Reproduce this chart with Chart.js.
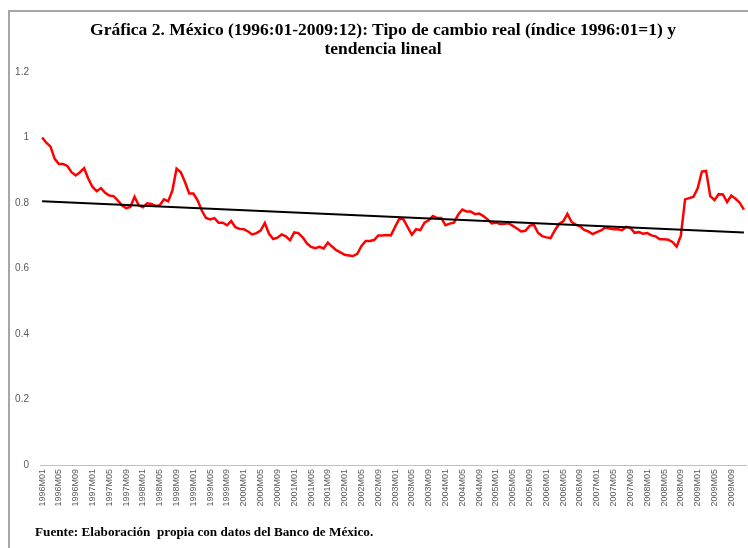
<!DOCTYPE html>
<html>
<head>
<meta charset="utf-8">
<script src="https://cdn.jsdelivr.net/npm/chart.js@4/dist/chart.umd.min.js"></script>
<style>
  html, body { margin: 0; padding: 0; background: #fff; }
  #wrap { position: relative; width: 748px; height: 548px; overflow: hidden; }
  #frame { position: absolute; left: 8px; top: 10px; width: 760px; height: 560px;
           border-left: 2px solid #a6a6a6; border-top: 2px solid #a6a6a6; }
  canvas { position: absolute; left: 0; top: 0; }
  #title { position: absolute; left: 0; width: 766px; top: 20px; text-align: center;
           font-family: "Liberation Serif", "Times New Roman", serif; font-weight: bold;
           font-size: 17.5px; line-height: 19px; color: #000; }
  #fuente { position: absolute; left: 35px; top: 524px;
            font-family: "Liberation Serif", "Times New Roman", serif; font-weight: bold;
            font-size: 13.2px; color: #000; white-space: pre; }
</style>
</head>
<body>
<div id="wrap">
  <div id="frame"></div>
  <canvas id="c" width="748" height="548"></canvas>
  <div id="title">Gráfica 2. México (1996:01-2009:12): Tipo de cambio real (índice 1996:01=1) y<br>tendencia lineal</div>
  <div id="fuente">Fuente: Elaboración  propia con datos del Banco de México.</div>
</div>
<script>
// Categories
const years = [1996, 1997, 1998, 1999, 2000, 2001, 2002, 2003, 2004, 2005, 2006, 2007, 2008, 2009];
const months = ["01","02","03","04","05","06","07","08","09","10","11","12"];

// Real exchange rate index (1996:01 = 1), one array per year
const tcr1996 = [1.000, 0.984, 0.972, 0.935, 0.919, 0.919, 0.913, 0.894, 0.884, 0.894, 0.906, 0.874];
const tcr1997 = [0.849, 0.836, 0.845, 0.831, 0.823, 0.821, 0.808, 0.793, 0.784, 0.788, 0.819, 0.793];
const tcr1998 = [0.787, 0.799, 0.797, 0.791, 0.793, 0.811, 0.805, 0.838, 0.905, 0.894, 0.864, 0.829];
const tcr1999 = [0.829, 0.808, 0.777, 0.754, 0.750, 0.754, 0.740, 0.740, 0.732, 0.745, 0.726, 0.721];
const tcr2000 = [0.720, 0.713, 0.704, 0.708, 0.716, 0.739, 0.706, 0.690, 0.694, 0.704, 0.698, 0.686];
const tcr2001 = [0.710, 0.708, 0.695, 0.677, 0.666, 0.662, 0.666, 0.661, 0.679, 0.667, 0.656, 0.649];
const tcr2002 = [0.642, 0.640, 0.638, 0.645, 0.669, 0.684, 0.684, 0.687, 0.701, 0.701, 0.702, 0.701];
const tcr2003 = [0.727, 0.752, 0.750, 0.726, 0.703, 0.720, 0.717, 0.740, 0.747, 0.760, 0.754, 0.754];
const tcr2004 = [0.732, 0.737, 0.740, 0.764, 0.780, 0.774, 0.774, 0.766, 0.768, 0.760, 0.750, 0.738];
const tcr2005 = [0.740, 0.736, 0.737, 0.738, 0.730, 0.722, 0.713, 0.715, 0.730, 0.734, 0.709, 0.699];
const tcr2006 = [0.695, 0.693, 0.716, 0.736, 0.744, 0.767, 0.742, 0.734, 0.729, 0.718, 0.713, 0.705];
const tcr2007 = [0.711, 0.716, 0.725, 0.722, 0.720, 0.720, 0.717, 0.727, 0.724, 0.709, 0.711, 0.706];
const tcr2008 = [0.708, 0.701, 0.698, 0.689, 0.689, 0.688, 0.681, 0.667, 0.700, 0.811, 0.815, 0.819];
const tcr2009 = [0.845, 0.896, 0.898, 0.821, 0.809, 0.827, 0.826, 0.803, 0.823, 0.813, 0.801, 0.780];

// Linear trend end points
const trendLabels = ["1996M01", "2009M12"];
const trendValues = [0.805, 0.710];

// Y axis ticks
const yTicks = [0, 0.2, 0.4, 0.6, 0.8, 1, 1.2];

const labels = [];
years.forEach(y => months.forEach(m => labels.push(y + "M" + m)));
const tcr = [].concat(tcr1996, tcr1997, tcr1998, tcr1999, tcr2000, tcr2001, tcr2002,
                      tcr2003, tcr2004, tcr2005, tcr2006, tcr2007, tcr2008, tcr2009);
const trend = trendLabels.map((l, i) => ({ x: l, y: trendValues[i] }));

new Chart(document.getElementById("c"), {
  type: "line",
  data: {
    labels: labels,
    datasets: [
      { label: "Tipo de cambio real", data: tcr, borderColor: "#ff0000", borderWidth: 2.5,
        pointRadius: 0, tension: 0, fill: false, order: 2 },
      { label: "Tendencia lineal", data: trend, borderColor: "#000000", borderWidth: 2,
        pointRadius: 0, tension: 0, fill: false, order: 1 }
    ]
  },
  options: {
    responsive: false,
    animation: false,
    events: [],
    layout: { padding: { left: 10, right: 2, top: 72, bottom: 38 } },
    plugins: { legend: { display: false }, title: { display: false }, tooltip: { enabled: false } },
    scales: {
      x: {
        type: "category",
        offset: true,
        grid: { display: false, drawTicks: false },
        border: { display: true, color: "#c0c0c0", width: 1 },
        afterFit: function (axis) { axis.height = 45; },
        ticks: {
          autoSkip: false, maxRotation: 90, minRotation: 90, padding: 4,
          color: "#595959", font: { family: "'Liberation Sans', sans-serif", size: 9 },
          callback: function (v, i) { return i % 4 === 0 ? labels[i] : null; }
        }
      },
      y: {
        min: 0, max: 1.2,
        afterBuildTicks: function (axis) { axis.ticks = yTicks.map(v => ({ value: v })); },
        afterFit: function (axis) { axis.width = 30; },
        grid: { display: false, drawTicks: false },
        border: { display: false },
        ticks: { color: "#595959", font: { family: "'Liberation Sans', sans-serif", size: 10 }, padding: 11,
                 callback: function (v) { return String(Math.round(v * 10) / 10); } }
      }
    }
  }
});
</script>
</body>
</html>
